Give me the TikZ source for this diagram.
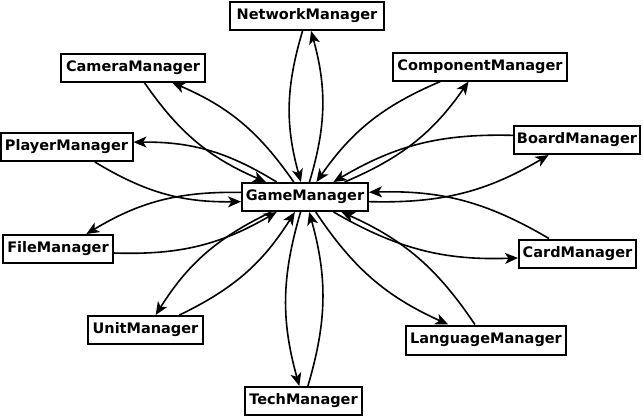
\documentclass[tikz,border=0pt]{standalone}
\usepackage{fontspec}
\setmainfont{DejaVu Sans}
\usetikzlibrary{arrows.meta}
\begin{document}
\begin{tikzpicture}[x=1pt,y=-1pt,
  mgr/.style={draw,line width=2pt,fill=white,inner sep=0pt,minimum height=28pt,font=\fontsize{14.5}{15}\selectfont\bfseries},
  link/.style={line width=1.6pt,-{Stealth[length=13pt,width=11pt,inset=3.5pt]},bend right=16}]
\useasboundingbox (0,0) rectangle (643,416);
\node[mgr,minimum width=154pt] (net) at (307,16) {NetworkManager};
\node[mgr,minimum width=144pt] (cam) at (133,67.5) {CameraManager};
\node[mgr,minimum width=174pt] (comp) at (480,66.5) {ComponentManager};
\node[mgr,minimum width=132pt] (player) at (66.5,147) {PlayerManager};
\node[mgr,minimum width=126pt] (board) at (577,140) {BoardManager};
\node[mgr,minimum width=126pt] (game) at (305,197) {GameManager};
\node[mgr,minimum width=110pt] (file) at (58,249) {FileManager};
\node[mgr,minimum width=117pt] (card) at (577.5,253.5) {CardManager};
\node[mgr,minimum width=115pt] (unit) at (145.5,330) {UnitManager};
\node[mgr,minimum width=160pt,minimum height=29pt] (lang) at (486,340) {LanguageManager};
\node[mgr,minimum width=117pt] (tech) at (303.5,401) {TechManager};
\foreach \m in {net,cam,comp,player,board,file,card,unit,lang,tech}{
  \draw[link] (game) to (\m);
  \draw[link] (\m) to (game);
}
\end{tikzpicture}
\end{document}
